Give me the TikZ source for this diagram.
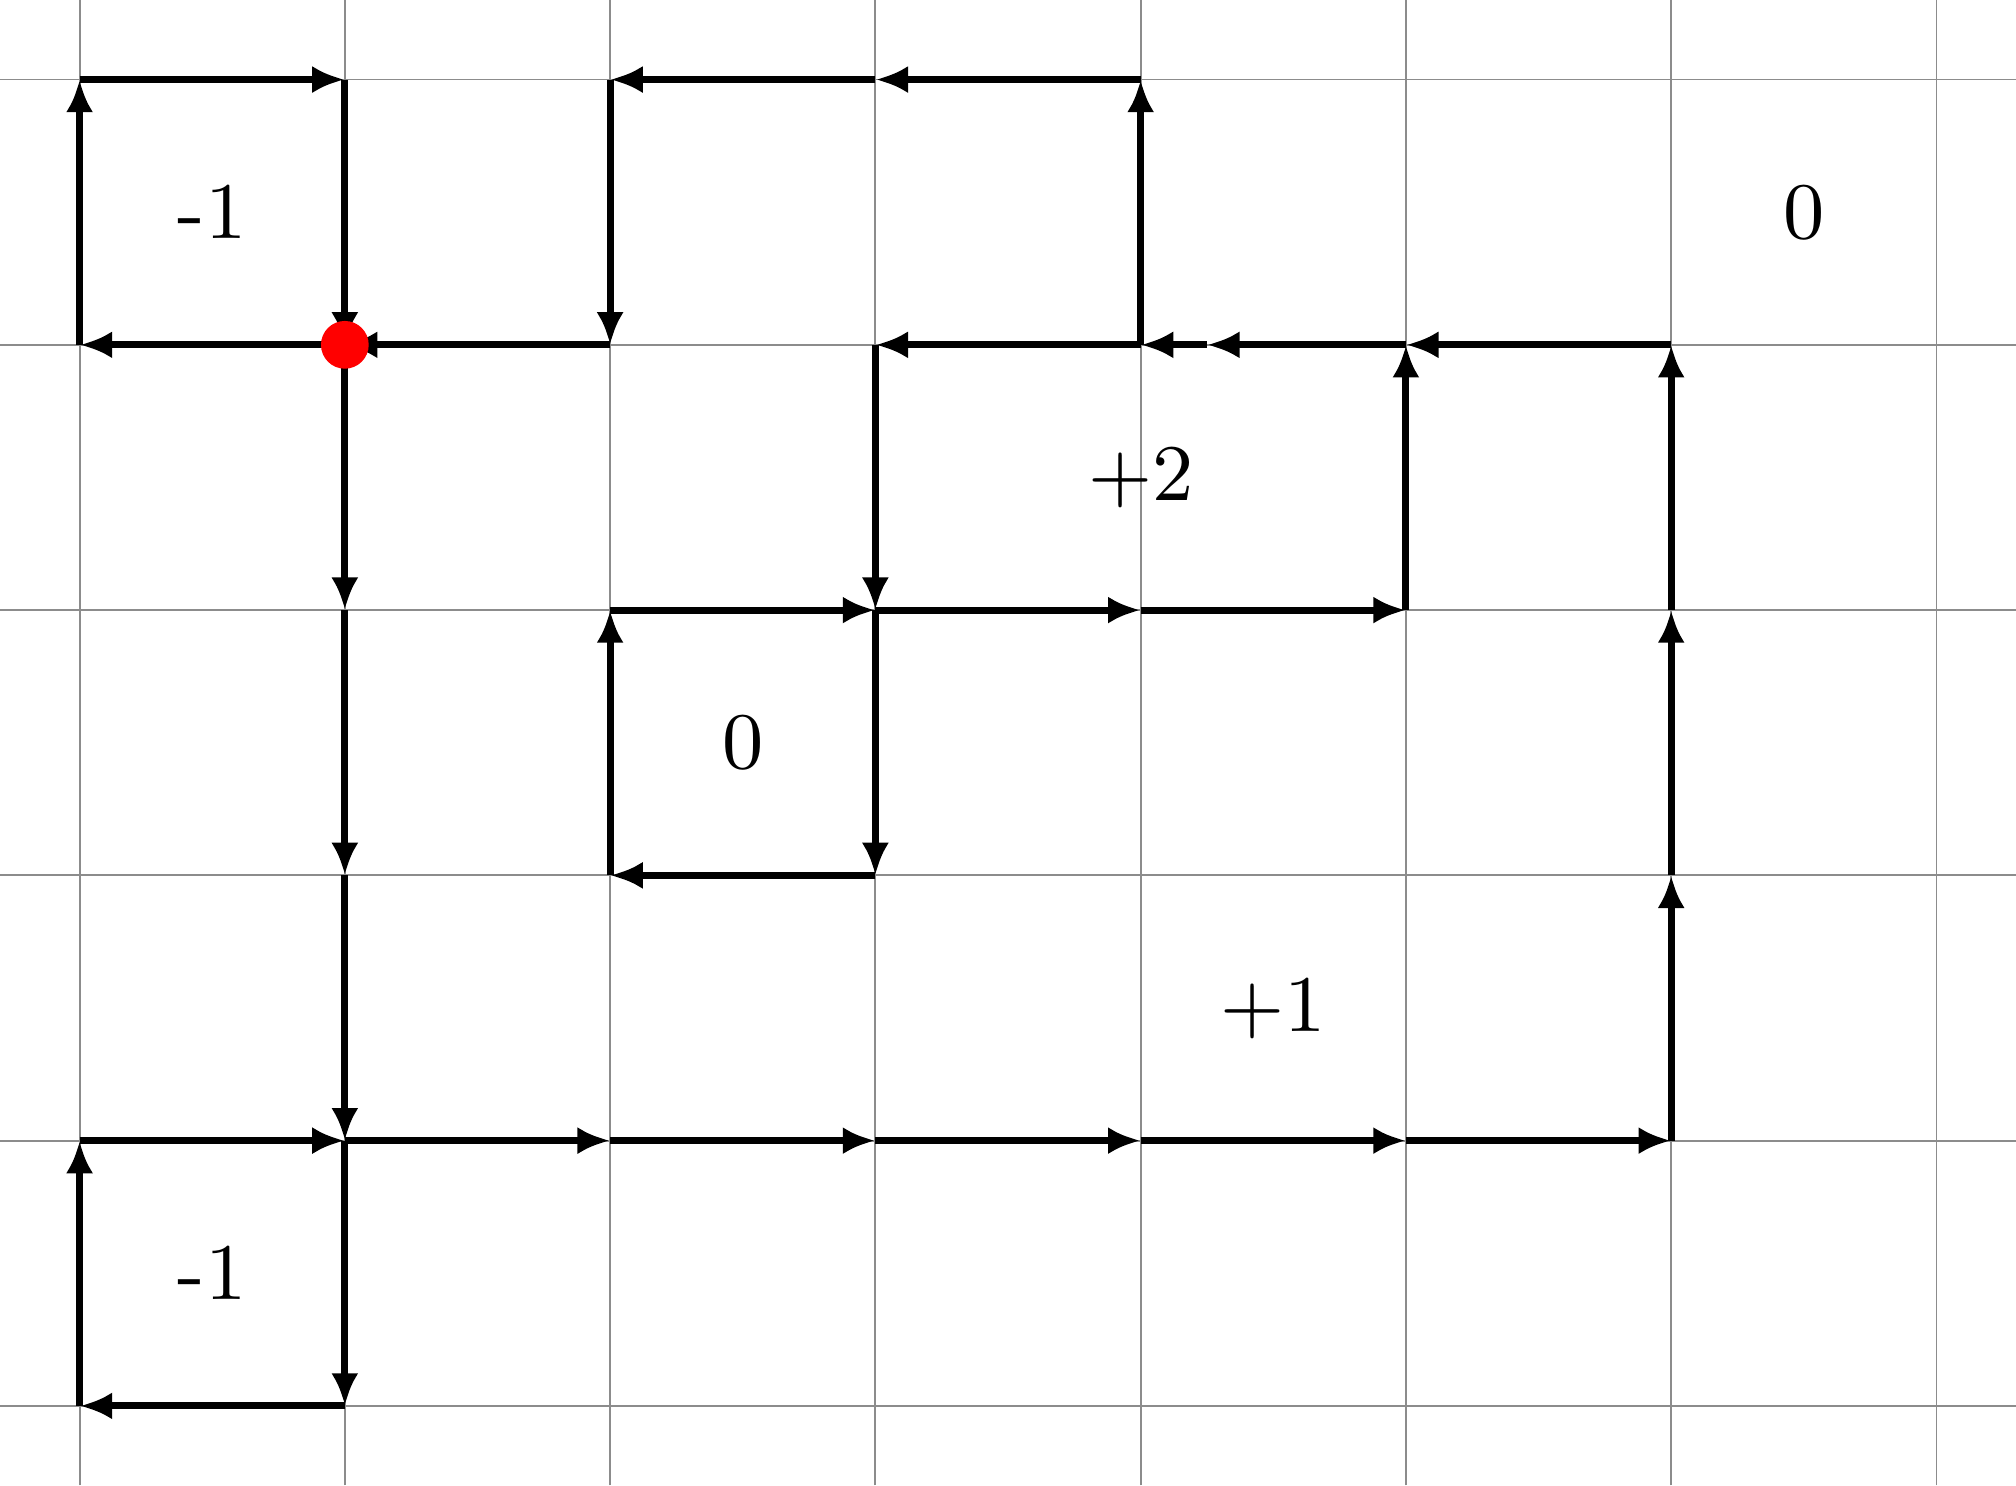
\documentclass[tikz,border=0pt]{standalone}
\usepackage{tikz}
\usepackage{xcolor}
\usetikzlibrary{arrows.meta, positioning, calc}

\begin{document}
\begin{tikzpicture}[
    gridline/.style={draw=gray!90, line width=0.2pt},
    edge/.style={-{Latex[length=3.5pt, width=2.9pt]}, line width=0.75pt, draw=black},
    charge/.style={font=\fontsize{8.6}{10}\selectfont, inner sep=1pt},
    base/.style={circle, fill=red, inner sep=0pt, minimum size=0.18cm}
]
    \useasboundingbox (-0.3,-0.3) rectangle (7.3,5.3);
    \draw[gridline] (-0.3,-0.3) grid (7.3,5.3);

    \foreach \i in {0,...,7}
        \foreach \j in {0,...,5}
            \coordinate (v\i\j) at (\i,\j);
    \coordinate (mid4) at (4.25,4);

    \draw[edge] (v05) -- (v15);
    \draw[edge] (v15) -- (v14);
    \draw[edge] (v14) -- (v04);
    \draw[edge] (v04) -- (v05);

    \draw[edge] (v45) -- (v35);
    \draw[edge] (v35) -- (v25);
    \draw[edge] (v25) -- (v24);
    \draw[edge] (v24) -- (v14);

    \draw[edge] (v14) -- (v13);
    \draw[edge] (v13) -- (v12);
    \draw[edge] (v12) -- (v11);
    \draw[edge] (v11) -- (v10);

    \draw[edge] (v01) -- (v11);
    \draw[edge] (v10) -- (v00);
    \draw[edge] (v00) -- (v01);

    \draw[edge] (v11) -- (v21);
    \draw[edge] (v21) -- (v31);
    \draw[edge] (v31) -- (v41);
    \draw[edge] (v41) -- (v51);
    \draw[edge] (v51) -- (v61);
    \draw[edge] (v61) -- (v62);
    \draw[edge] (v62) -- (v63);
    \draw[edge] (v63) -- (v64);
    \draw[edge] (v64) -- (v54);
    \draw[edge] (v54) -- (mid4);
    \draw[edge] (mid4) -- (v44);
    \draw[edge] (v44) -- (v45);

    \draw[edge] (v44) -- (v34);
    \draw[edge] (v34) -- (v33);
    \draw[edge] (v33) -- (v43);
    \draw[edge] (v43) -- (v53);
    \draw[edge] (v53) -- (v54);

    \draw[edge] (v23) -- (v33);
    \draw[edge] (v33) -- (v32);
    \draw[edge] (v32) -- (v22);
    \draw[edge] (v22) -- (v23);

    \node[base] (dot) at (v14) {};

    \node[charge] (qa) at (0.5,4.5) {-1};
    \node[charge] (qb) at (6.5,4.5) {0};
    \node[charge] (qc) at (4.0,3.5) {+2};
    \node[charge] (qd) at (2.5,2.5) {0};
    \node[charge] (qe) at (4.5,1.5) {+1};
    \node[charge] (qf) at (0.5,0.5) {-1};
\end{tikzpicture}
\end{document}
